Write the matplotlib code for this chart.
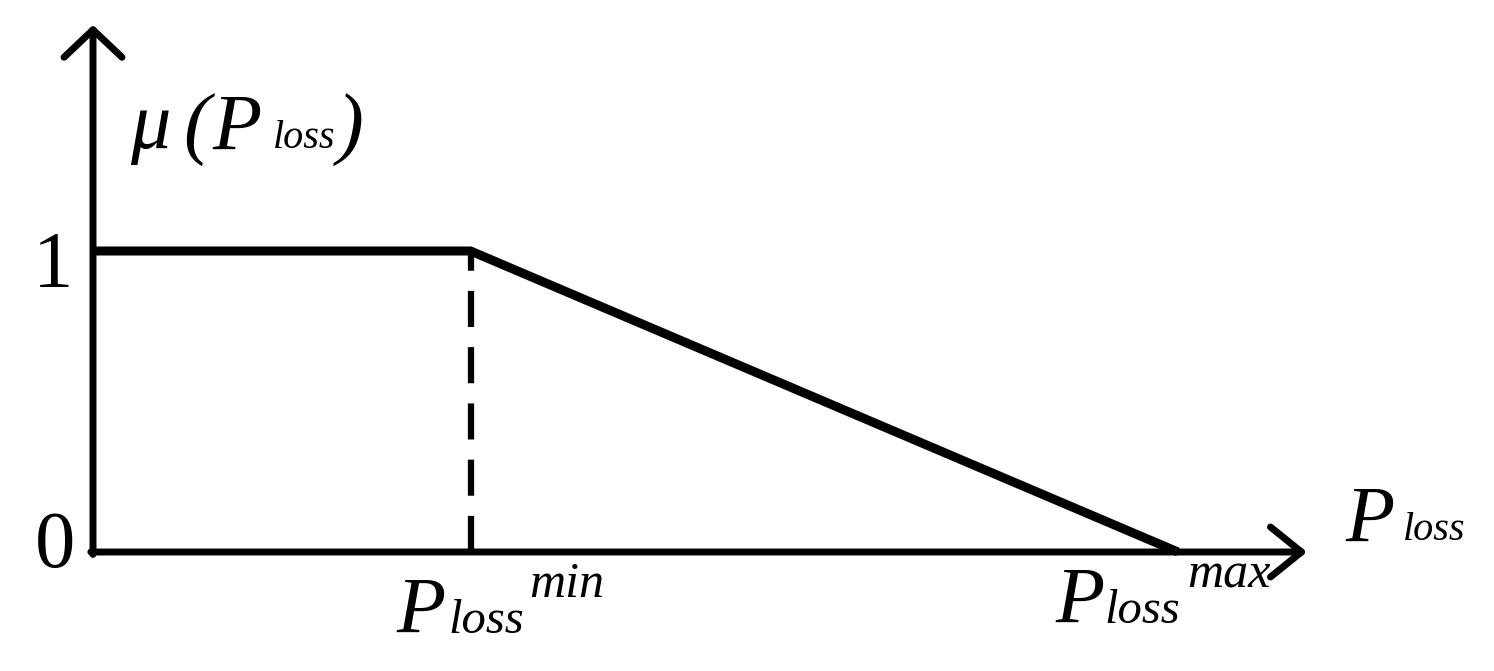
import matplotlib
matplotlib.use("Agg")
import matplotlib.pyplot as plt

# ---- data ----
p_min = 0.348          # P_loss^min (relative to P_loss^max)
p_max = 1.0            # P_loss^max
curve_x = [0.0, p_min, p_max]
curve_y = [1.0, 1.0, 0.0]
y_ticks = [0, 1]
y_tick_labels = ["0", "1"]

W, H = 1494, 671
plt.rcParams['lines.scale_dashes'] = False
fig = plt.figure(figsize=(W / 100, H / 100), dpi=100)
ax = fig.add_axes([0, 0, 1, 1])
ax.set_xlim(-93 / 1085, (W - 93) / 1085)
ax.set_ylim(-(H - 552) / 301, 552 / 301)
ax.axis('off')

# axes with open arrowheads
x_end = (1307 - 93) / 1085
y_end = (552 - 25) / 301
ax.annotate('', xy=(x_end, 0), xytext=(-0.002, 0),
            arrowprops=dict(arrowstyle='->,head_length=0.62,head_width=0.5',
                            lw=5, color='black', shrinkA=0, shrinkB=0,
                            mutation_scale=36))
ax.annotate('', xy=(0, y_end), xytext=(0, -0.008),
            arrowprops=dict(arrowstyle='->,head_length=0.55,head_width=0.58',
                            lw=5, color='black', shrinkA=0, shrinkB=0,
                            mutation_scale=36))

# membership function
ax.plot(curve_x, curve_y, color='black', lw=6.5, solid_capstyle='butt',
        solid_joinstyle='miter')
# dashed guide at P_min
ax.plot([p_min, p_min], [0, 1], color='black', lw=4.5,
        linestyle=(0, (26, 14.5)))

serif = 'Liberation Serif'

def ptext(px, py, s, size, italic=True):
    fig.text(px / W, 1 - py / H, s, fontsize=size, family=serif,
             style='italic' if italic else 'normal', ha='left', va='baseline',
             color='black')

# y tick labels
ptext(33, 287, y_tick_labels[1], 58, italic=False)
ptext(35, 567, y_tick_labels[0], 58, italic=False)

# y axis label  mu(P_loss)
ptext(130, 148, "\u03bc", 58)
ptext(183, 150, "(", 58)
ptext(212, 150, "P", 58)
ptext(273, 148, "loss", 29)
ptext(337, 150, ")", 58)

# x axis label P_loss
ptext(1345, 542, "P", 58)
ptext(1403, 540, "loss", 29)

# P_loss^min
ptext(396, 633, "P", 58)
ptext(448, 633, "loss", 35)
ptext(529, 597, "min", 36)

# P_loss^max
ptext(1055, 623, "P", 58)
ptext(1104, 623, "loss", 35)
ptext(1187, 588, "max", 36)

fig.savefig("out.png", dpi=100, facecolor='white')
